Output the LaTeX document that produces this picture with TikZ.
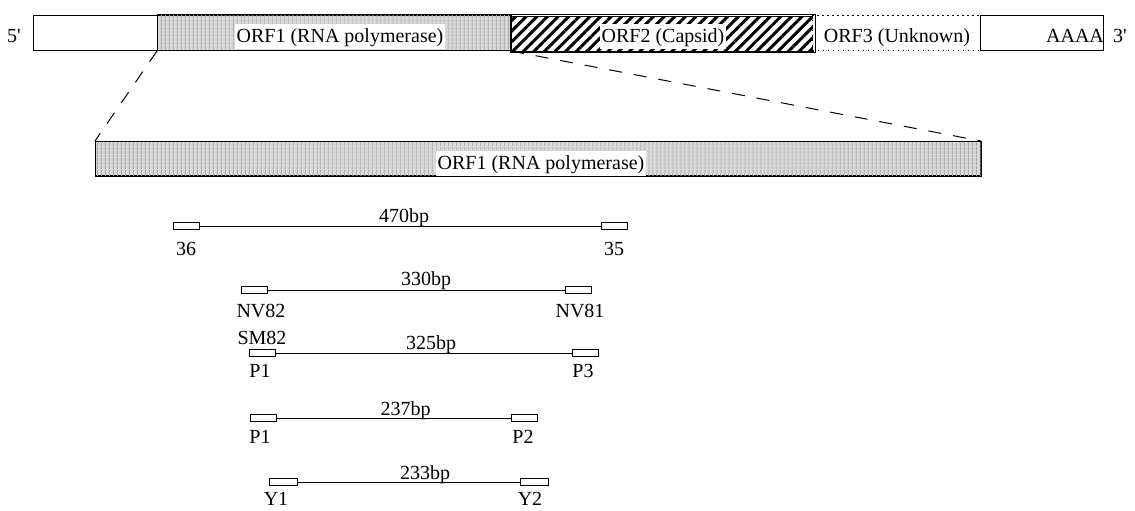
\documentclass[tikz,border=0pt]{standalone}
\usepackage{fontspec}
\setmainfont{Liberation Serif}
\usetikzlibrary{patterns.meta}
\begin{document}
\begin{tikzpicture}[x=1pt,y=-1pt,
  lbl/.style={font=\fontsize{20}{24}\selectfont, anchor=base, inner sep=0pt},
  orflbl/.style={lbl, fill=white, inner sep=1.5pt, text height=17pt, text depth=5pt},
  seg/.style={draw, line width=1pt, minimum height=35pt, inner sep=0pt, anchor=north west},
  primer/.style={draw, fill=white, minimum width=26pt, minimum height=7pt, inner sep=0pt, line width=0.8pt},
  amp/.style={line width=0.9pt},
  stip/.style={fill=gray!30, postaction={pattern={Lines[angle=90,distance=4pt,line width=1.2pt]}, pattern color=gray!70}},
  hatch/.style={pattern={Lines[angle=45,distance=7.5pt,line width=3pt]}, pattern color=black},
  dotbox/.style={line width=1.3pt, dash pattern=on 1.5pt off 3.5pt},
  zoomline/.style={line width=1pt, dash pattern=on 13pt off 12pt}
]
\useasboundingbox (0,0) rectangle (1135,511);

% ---- genome bar ----
\node[seg, minimum width=124pt, fill=white] (utr5) at (33,15) {};
\node[seg, minimum width=353pt, stip] (orf1) at (157,15) {};
\node[seg, minimum width=302pt, hatch] (orf2) at (510,15) {};
\node[seg, minimum width=168pt, fill=white, dotbox] (orf3) at (812,15) {};
\node[seg, minimum width=123pt, fill=white] (utr3) at (980,15) {};

\node[orflbl] (t1) at (340,43) {ORF1 (RNA polymerase)};
\node[orflbl] (t2) at (663,43) {ORF2 (Capsid)};
\node[lbl] (t3) at (897,43) {ORF3 (Unknown)};
\node[lbl] (aaaa) at (1075,43) {AAAA};
\node[lbl] (p5) at (14,43) {5\textquotesingle};
\node[lbl] (p3) at (1120,43) {3\textquotesingle};
\draw[line width=1pt] (orf1.north west) rectangle (orf1.south east);
\draw[line width=1pt] (orf2.north west) rectangle (orf2.south east);

% ---- enlarged ORF1 ----
\node[seg, minimum width=885pt, minimum height=34pt, stip] (orf1z) at (95,141) {};
\node[orflbl] (tz) at (541,169) {ORF1 (RNA polymerase)};
\draw[line width=1pt] (orf1z.north west) rectangle (orf1z.south east);

\draw[zoomline] (orf1.south west) -- (orf1z.north west);
\draw[zoomline] (orf1.south east) -- (orf1z.north east);

% ---- 470 bp ----
\node[primer] (a1) at (186,226) {};
\node[primer] (a2) at (614,226) {};
\draw[amp] (a1) -- (a2);
\node[lbl] (la) at (404,222) {470bp};
\node[lbl] (a1l) at (186,255) {36};
\node[lbl] (a2l) at (614,255) {35};

% ---- 330 bp ----
\node[primer] (b1) at (254.5,290) {};
\node[primer] (b2) at (578.5,290) {};
\draw[amp] (b1) -- (b2);
\node[lbl] (lb) at (426,285) {330bp};
\node[lbl] (b1l) at (261,317) {NV82};
\node[lbl] (b2l) at (580,317) {NV81};

% ---- 325 bp ----
\node[primer] (c1) at (262.5,353) {};
\node[primer] (c2) at (585.5,353) {};
\draw[amp] (c1) -- (c2);
\node[lbl] (lc) at (431,349) {325bp};
\node[lbl] (c0l) at (262,344) {SM82};
\node[lbl] (c1l) at (260,377) {P1};
\node[lbl] (c2l) at (583,377) {P3};

% ---- 237 bp ----
\node[primer] (d1) at (263,418) {};
\node[primer] (d2) at (524.5,418) {};
\draw[amp] (d1) -- (d2);
\node[lbl] (ld) at (405.5,415) {237bp};
\node[lbl] (d1l) at (260,443) {P1};
\node[lbl] (d2l) at (523,443) {P2};

% ---- 233 bp ----
\node[primer, minimum width=28pt] (e1) at (283,482) {};
\node[primer, minimum width=28pt] (e2) at (534.5,482) {};
\draw[amp] (e1) -- (e2);
\node[lbl] (le) at (425,479) {233bp};
\node[lbl] (e1l) at (276,505) {Y1};
\node[lbl] (e2l) at (530,505) {Y2};
\end{tikzpicture}
\end{document}
